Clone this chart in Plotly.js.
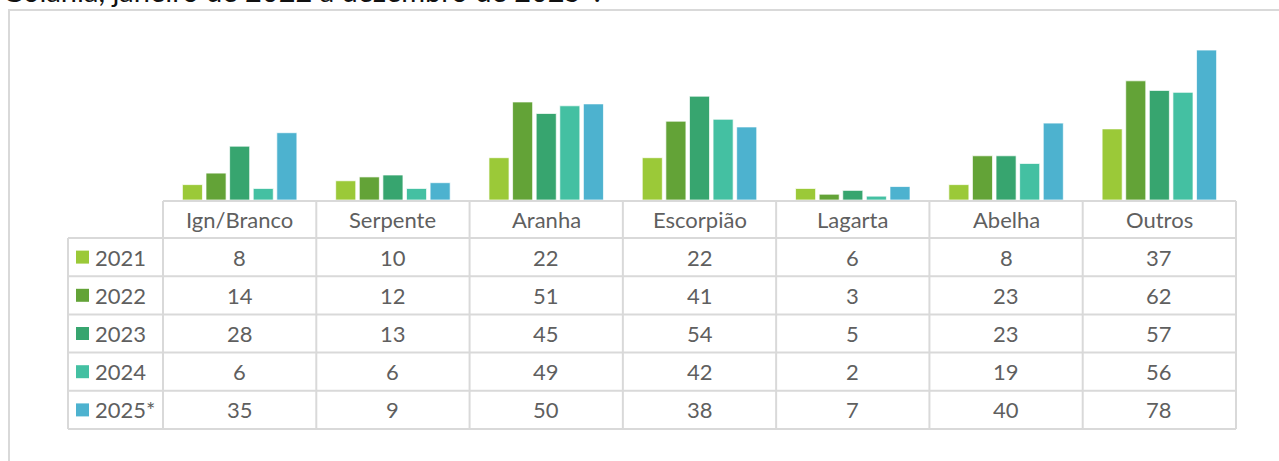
<!DOCTYPE html>
<html><head><meta charset="utf-8">
<script src="https://cdn.plot.ly/plotly-3.0.1.min.js"></script>
<style>html,body{margin:0;padding:0;background:#fff}</style>
</head><body><div id="chart" style="width:1279px;height:461px"></div>
<script>
const categories = ["Ign/Branco","Serpente","Aranha","Escorpião","Lagarta","Abelha","Outros"];
const years = ["2021","2022","2023","2024","2025*"];
const v2021 = [8,10,22,22,6,8,37];
const v2022 = [14,12,51,41,3,23,62];
const v2023 = [28,13,45,54,5,23,57];
const v2024 = [6,6,49,42,2,19,56];
const v2025 = [35,9,50,38,7,40,78];
const colors = ["#9BC938","#63A337","#37A56F","#44C0A2","#4DB2CF"];
const titleText = "Goiânia, janeiro de 2022 a dezembro de 2025*.";
const series = [v2021, v2022, v2023, v2024, v2025];

const W = 1279, H = 461, ML = 163, MR = 43, MT = 27, MB = 0;
const PW = W - ML - MR, PH = H - MT - MB;
const px = p => (p - ML) / PW;
const py = p => (H - MB - p) / PH;
const FONT = "Lato, 'Open Sans', sans-serif";
const TXT = "#5f5f5f";
const GRID = "#D9D9D9";
const FS = 22;

const traces = series.map((vals, i) => ({
  type: "bar", name: years[i], x: categories, y: vals,
  marker: {color: colors[i], line: {color: "rgba(255,255,255,0.7)", width: 1}},
  hoverinfo: "x+y+name"
}));

// table geometry
const rowLines = [201, 238, 276.2, 314.4, 352.6, 390.8, 429];
const colLeft = 68, colStart = 163, colEnd = 1236;
const shapes = [];
const line = (x0, y0, x1, y1) => shapes.push({type: "line", xref: "paper", yref: "paper",
  x0: px(x0), x1: px(x1), y0: py(y0), y1: py(y1), line: {color: GRID, width: 2}});
// outer frame
shapes.push({type: "rect", xref: "paper", yref: "paper", x0: px(9), x1: px(1300), y0: py(10), y1: py(480),
  line: {color: GRID, width: 2}, fillcolor: "rgba(0,0,0,0)", layer: "below"});
// header top
line(colStart, rowLines[0], colEnd, rowLines[0]);
// row lines
for (let r = 1; r < rowLines.length; r++) line(colLeft, rowLines[r], colEnd, rowLines[r]);
// verticals
for (let c = 0; c <= categories.length; c++) {
  const x = colStart + c * (colEnd - colStart) / categories.length;
  line(x, rowLines[0], x, rowLines[rowLines.length - 1]);
}
line(colLeft, rowLines[1], colLeft, rowLines[rowLines.length - 1]);

const annotations = [];
categories.forEach((c, i) => {
  annotations.push({xref: "x", yref: "paper", x: c, y: py((rowLines[0] + rowLines[1]) / 2),
    text: c, showarrow: false, xanchor: "center", yanchor: "middle",
    font: {family: FONT, size: FS, color: TXT}});
});
series.forEach((vals, r) => {
  const yc = py((rowLines[r + 1] + rowLines[r + 2]) / 2);
  vals.forEach((v, i) => {
    annotations.push({xref: "x", yref: "paper", x: categories[i], y: yc,
      text: String(v), showarrow: false, xanchor: "center", yanchor: "middle",
      font: {family: FONT, size: FS, color: TXT}});
  });
  const ycp = (rowLines[r + 1] + rowLines[r + 2]) / 2;
  shapes.push({type: "rect", xref: "paper", yref: "paper", x0: px(76), x1: px(89), y0: py(ycp - 6.5), y1: py(ycp + 6.5),
    line: {width: 0}, fillcolor: colors[r]});
  annotations.push({xref: "paper", yref: "paper", x: px(93), y: yc,
    text: years[r], showarrow: false, xanchor: "left", yanchor: "middle",
    font: {family: FONT, size: FS, color: TXT}});
});
annotations.push({xref: "paper", yref: "paper", x: px(0), y: py(10), text: titleText,
  showarrow: false, xanchor: "left", yanchor: "bottom",
  font: {family: FONT, size: 29, color: "#111111"}});

const layout = {
  width: W, height: H,
  margin: {l: ML, r: MR, t: MT, b: MB, pad: 0},
  paper_bgcolor: "#fff", plot_bgcolor: "#fff",
  showlegend: false, barmode: "group", bargap: 0.23, bargroupgap: 0.15,
  xaxis: {range: [-0.5, categories.length - 0.5], showticklabels: false, showgrid: false,
    zeroline: false, showline: false, ticks: "", fixedrange: true},
  yaxis: {domain: [py(200), 1], range: [0, 90], showticklabels: false, showgrid: false,
    zeroline: false, showline: false, ticks: "", fixedrange: true},
  shapes: shapes, annotations: annotations,
  font: {family: FONT}
};
Plotly.newPlot("chart", traces, layout, {displayModeBar: false, staticPlot: true});
</script></body></html>
